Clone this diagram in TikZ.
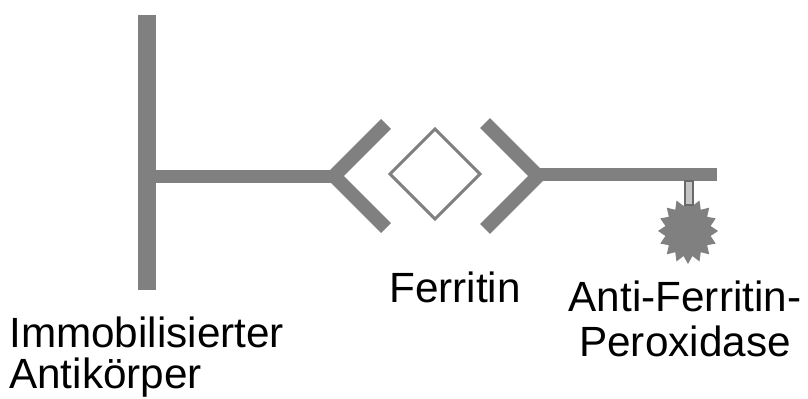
\documentclass[tikz,border=0pt]{standalone}
\usepackage{fontspec}
\setmainfont{Liberation Sans}

\definecolor{antibody}{RGB}{128,128,128}
\definecolor{linker}{RGB}{196,196,196}
\definecolor{linkerrim}{RGB}{105,105,105}

\begin{document}
\begin{tikzpicture}[x=0.75pt,y=-0.75pt,
		labeltext/.style={font=\fontsize{31.7pt}{30.75pt}\selectfont, inner sep=0pt},
		arm/.style={draw=antibody, line width=10.5pt}]
	\useasboundingbox (0,0) rectangle (808,399);

	% immobilisierter Antikoerper
	\fill[antibody] (138,15) rectangle (156,290);
	\fill[antibody] (156,170) rectangle (334,183);
	\draw[arm] (386,124) -- (334,176) -- (386,228);

	% Ferritin
	\draw[antibody, line width=2.25pt] (435,129) -- (480,174) -- (435,219) -- (390,174) -- cycle;

	% Anti-Ferritin mit Peroxidase
	\draw[arm] (485,123) -- (538,176) -- (485,229);
	\fill[antibody] (538,168) rectangle (717,181);
	\begin{scope}[shift={(688,231)}]
		\fill[antibody] (0:30 and 33) \foreach \k in {1,...,31} {
			-- ({\k*11.25}:{ifthenelse(mod(\k,2)==0,30,23)} and {ifthenelse(mod(\k,2)==0,33,25.5)})
		} -- cycle;
	\end{scope}
	\draw[linkerrim, fill=linker, line width=1.5pt] (684.5,181) rectangle (692.5,205);

	% base anchor sits on the last line
	\node[labeltext, align=left, anchor=base west] (capture) at (9,388) {Immobilisierter\\Antikörper};
	\node[labeltext, anchor=base] (ferritin) at (455,303) {Ferritin};
	\node[labeltext, font=\fontsize{31.7pt}{33.75pt}\selectfont, align=center, anchor=base] (conjugate) at (685,357) {Anti-Ferritin-\\Peroxidase};
\end{tikzpicture}
\end{document}
